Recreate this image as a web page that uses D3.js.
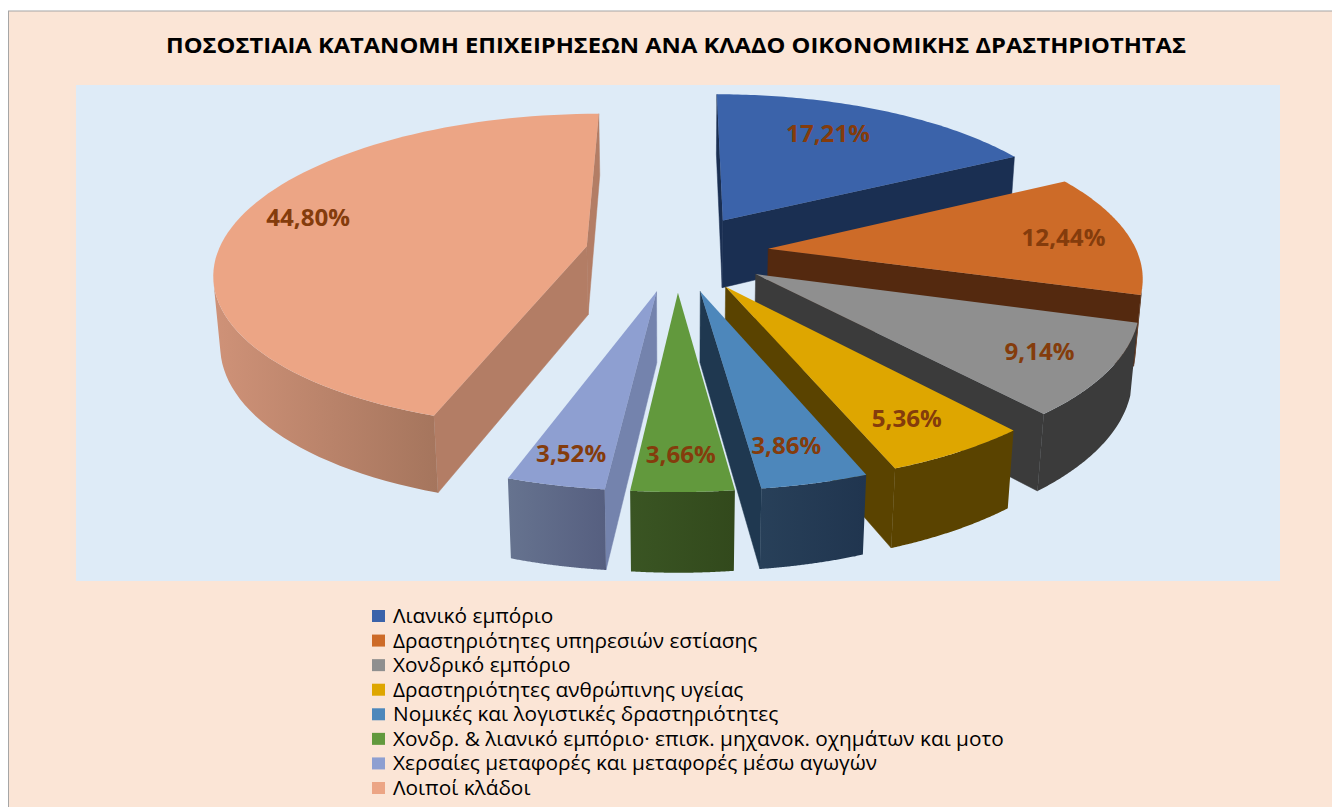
<!DOCTYPE html>
<html><head><meta charset="utf-8">
<script src="https://cdn.jsdelivr.net/npm/d3@7"></script>
<style>html,body{margin:0;padding:0;background:#fff}svg{display:block}</style>
</head><body><svg id="c" width="1332" height="807"></svg>
<script>
const titleText = "ΠΟΣΟΣΤΙΑΙΑ ΚΑΤΑΝΟΜΗ ΕΠΙΧΕΙΡΗΣΕΩΝ ΑΝΑ ΚΛΑΔΟ ΟΙΚΟΝΟΜΙΚΗΣ ΔΡΑΣΤΗΡΙΟΤΗΤΑΣ";
const categories = ["Λιανικό εμπόριο","Δραστηριότητες υπηρεσιών εστίασης","Χονδρικό εμπόριο","Δραστηριότητες ανθρώπινης υγείας","Νομικές και λογιστικές δραστηριότητες","Χονδρ. & λιανικό εμπόριο· επισκ. μηχανοκ. οχημάτων και μοτο","Χερσαίες μεταφορές και μεταφορές μέσω αγωγών","Λοιποί κλάδοι"];
const values = [17.21,12.44,9.14,5.36,3.86,3.66,3.52,44.80];
const topColors = ["#3b63aa","#cd6b28","#8f8f8f","#dea600","#4d87bb","#62993d","#8e9fd1","#eca585"];
const innerColors = ["#1a2f52","#54290f","#3b3b3b","#5a4300","#1f3850","#36501f","#7483ad","#b37d65"];
const outerRight = ["#1a2f52","#54290f","#3b3b3b","#5a4300","#20354f","#32491c","#565f80","#a5755d"];
const outerLeft = ["#1a2f52","#54290f","#3b3b3b","#5a4300","#284059","#3a5523","#66738f","#cf9278"];
const labelReach = [0.60,0.84,0.88,0.89,0.85,0.85,0.90,0.77];
const labelShiftX = [6,-7,-23,-23,-9,-1,4,-7];
const labelShiftY = [-17,2,-6,-12,-4,-2,-9,-10];

const W=1332,H=807;
const svg=d3.select("#c");
const FONT="'Open Sans','Noto Sans',sans-serif";
svg.append("rect").attr("x",8.5).attr("y",11).attr("width",W).attr("height",H).attr("fill","#fbe5d6").attr("stroke","#a6a6a6").attr("stroke-width",1);
svg.append("rect").attr("x",76).attr("y",85).attr("width",1204).attr("height",496).attr("fill","#deebf7");
svg.append("text").attr("x",676).attr("y",52.5).attr("text-anchor","middle").attr("font-family",FONT)
  .attr("font-weight",700).attr("font-size",21).attr("fill","#000").attr("textLength",1020).attr("lengthAdjust","spacingAndGlyphs").text(titleText);

// 3D projection
const cx=677,cy=252.5,R=369,EXPL=92,H3=77,tilt=24.8*Math.PI/180,D=2170;
const sinT=Math.sin(tilt),cosT=Math.cos(tilt);
function project(X,Y,Z){
  const yy=Y*sinT+Z*cosT, zz=Y*cosT-Z*sinT, s=D/(D+zz);
  return [cx+X*s, cy-yy*s];
}
const pie=d3.pie().sort(null).startAngle(0).endAngle(2*Math.PI).value(d=>d);
const arcs=pie(values);
const line=d3.line().curve(d3.curveLinear);
const color=d3.scaleOrdinal().domain(categories).range(topColors);
const defs=svg.append("defs");

const slices=arcs.map((a,i)=>{
  const mid=(a.startAngle+a.endAngle)/2;
  return {i,a,mid,ox:EXPL*Math.sin(mid),oy:EXPL*Math.cos(mid)};
});
const rim=(s,t,Z,r=R)=>project(s.ox+r*Math.sin(t),s.oy+r*Math.cos(t),Z);
const apex=(s,Z)=>project(s.ox,s.oy,Z);
// d3.polygonArea is positive when the points run counter-clockwise on a y-down screen
const faces=(P,Q)=>d3.polygonArea([P[0],Q[0],Q[1],P[1]])>0;
function wall(g,P,Q,fill){
  if(!faces(P,Q)) return;
  g.append("path").attr("d",line([P[0],Q[0],Q[1],P[1]])+"Z").attr("fill",fill).attr("stroke",fill).attr("stroke-width",0.5);
}
const order=slices.slice().sort((p,q)=>q.oy-p.oy);
order.forEach(s=>{
  const g=svg.append("g");
  const a0=s.a.startAngle,a1=s.a.endAngle,i=s.i;
  wall(g,[apex(s,0),apex(s,-H3)],[rim(s,a0,0),rim(s,a0,-H3)],innerColors[i]);
  wall(g,[rim(s,a1,0),rim(s,a1,-H3)],[apex(s,0),apex(s,-H3)],innerColors[i]);
  const ts=d3.range(0,81).map(k=>a0+(a1-a0)*k/80);
  const upper=[],lower=[];
  for(let k=0;k<80;k++){
    const P=[rim(s,ts[k],0),rim(s,ts[k],-H3)],Q=[rim(s,ts[k+1],0),rim(s,ts[k+1],-H3)];
    if(faces(P,Q)){ if(!upper.length){upper.push(P[0]);lower.push(P[1]);} upper.push(Q[0]);lower.push(Q[1]); }
  }
  if(upper.length){
    const poly=[...upper,...lower.reverse()];
    const [x0,x1]=d3.extent(poly,p=>p[0]);
    const id="wall"+i;
    const lg=defs.append("linearGradient").attr("id",id).attr("gradientUnits","userSpaceOnUse")
      .attr("x1",x0).attr("x2",x1).attr("y1",0).attr("y2",0);
    lg.append("stop").attr("offset",0).attr("stop-color",outerLeft[i]);
    lg.append("stop").attr("offset",1).attr("stop-color",outerRight[i]);
    g.append("path").attr("d",line(poly)+"Z").attr("fill",`url(#${id})`);
  }
  const top=[apex(s,0),...ts.map(t=>rim(s,t,0))];
  g.append("path").attr("d",line(top)+"Z").attr("fill",color(categories[i]));
});
// data labels
const fmt=v=>v.toFixed(2).replace(".",",")+"%";
slices.forEach(s=>{
  const p=rim(s,s.mid,0,R*labelReach[s.i]);
  const t=svg.append("text").attr("x",p[0]+labelShiftX[s.i]).attr("y",p[1]+labelShiftY[s.i]).attr("dy","0.35em").attr("text-anchor","middle")
    .attr("font-family",FONT).attr("font-weight",700).attr("font-size",23).attr("fill","#843c0c").text(fmt(values[s.i]));
  t.attr("textLength",t.node().getComputedTextLength()*1.05).attr("lengthAdjust","spacingAndGlyphs");
});
// legend
const ly=d3.scalePoint().domain(categories).range([616,788]);
categories.forEach((c,i)=>{
  svg.append("rect").attr("x",372).attr("y",ly(c)-6).attr("width",13).attr("height",12).attr("fill",topColors[i]);
  const t=svg.append("text").attr("x",393).attr("y",ly(c)).attr("dy","0.35em").attr("font-family",FONT).attr("font-size",20).attr("fill","#000").text(c);
  t.attr("textLength",t.node().getComputedTextLength()*1.04).attr("lengthAdjust","spacingAndGlyphs");
});
</script></body></html>
